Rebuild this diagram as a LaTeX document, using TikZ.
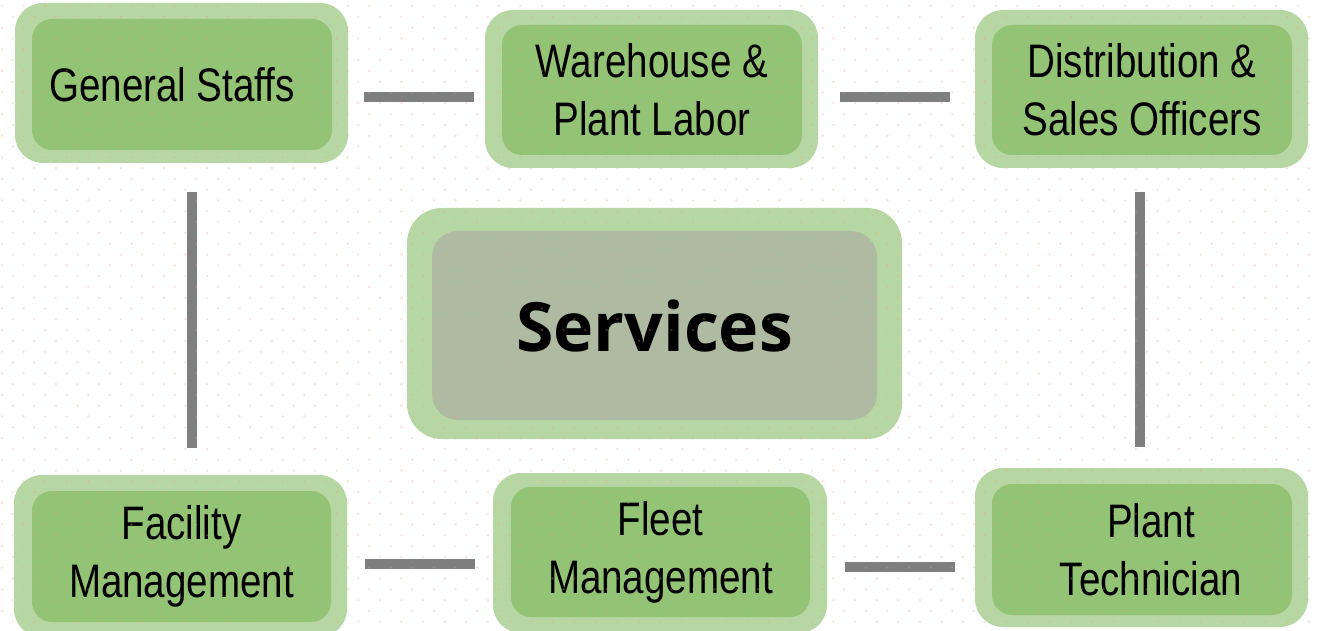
\documentclass[tikz,border=0pt]{standalone}
\usepackage{fontspec}
\setmainfont{Liberation Sans}
\newfontfamily\labfont[FakeStretch=0.82]{Liberation Sans}
\newfontfamily\titlefont{Open Sans}
\usetikzlibrary{calc}
\definecolor{outerg}{HTML}{B6D7A4}
\definecolor{innerg}{HTML}{93C374}
\definecolor{serving}{HTML}{AEBBA2}
\definecolor{connc}{HTML}{7F7F7F}
\definecolor{dotc}{HTML}{F0A070}
\begin{document}
\begin{tikzpicture}[x=1pt,y=-1pt,
  outerbox/.style={draw=none, fill=outerg, rounded corners=28pt, inner sep=0pt},
  innerbox/.style={draw=none, fill=innerg, rounded corners=20pt, inner sep=0pt,
    align=center, text=black, font=\labfont\fontsize{47}{58}\selectfont},
  conn/.style={draw=connc, line width=10pt}]
\useasboundingbox (0,0) rectangle (1317,631);
\clip (0,0) rectangle (1317,631);
\fill[white] (0,0) rectangle (1317,631);

% outer boxes
\node[outerbox, minimum width=333pt, minimum height=160pt] (gs) at (181.5,83) {};
\node[outerbox, minimum width=333pt, minimum height=158pt] (wh) at (651.5,89) {};
\node[outerbox, minimum width=333pt, minimum height=158pt] (ds) at (1141.5,89) {};
\node[outerbox, minimum width=495pt, minimum height=231pt, rounded corners=35pt] (sv) at (654.5,323.5) {};
\node[outerbox, minimum width=333pt, minimum height=162pt] (fm) at (180.5,556) {};
\node[outerbox, minimum width=334pt, minimum height=160pt] (fl) at (660,553) {};
\node[outerbox, minimum width=333pt, minimum height=159pt] (pt) at (1141.5,547.5) {};

% inner boxes with labels
\node[innerbox, minimum width=300pt, minimum height=131pt] (gsi) at (182,84.5) {General Staffs\hspace*{20pt}};
\node[innerbox, minimum width=300pt, minimum height=130pt] (whi) at (652,90) {Warehouse \&\\Plant Labor};
\node[innerbox, minimum width=300pt, minimum height=130pt] (dsi) at (1142,90) {Distribution \&\\Sales Officers};
\node[innerbox, fill=serving, minimum width=445pt, minimum height=189pt, rounded corners=26pt,
  font=\titlefont\bfseries\fontsize{68}{80}\selectfont] (svi) at (654.5,325.5) {Services};
\node[innerbox, minimum width=299pt, minimum height=131pt] (fmi) at (181.5,556.5) {Facility\\Management};
\node[innerbox, minimum width=299pt, minimum height=130pt] (fli) at (660.5,552) {Fleet\\Management};
\node[innerbox, minimum width=300pt, minimum height=131pt] (pti) at (1142,549.5) {\hspace*{18pt}Plant\\\hspace*{18pt}Technician};

% connectors
\draw[conn] ($(gs.east)+(16,14)$) -- ($(wh.west)+(-11,8)$);
\draw[conn] ($(wh.east)+(22,8)$) -- ($(ds.west)+(-25,8)$);
\draw[conn] ($(gs.south)+(10.5,29)$) -- ($(fm.north)+(11.5,-27)$);
\draw[conn] ($(ds.south)+(-1.5,24)$) -- ($(pt.north)+(-1.5,-21)$);
\draw[conn] ($(fm.east)+(18,8)$) -- ($(fl.west)+(-18,11)$);
\draw[conn] ($(fl.east)+(18,14)$) -- ($(pt.west)+(-20,19.5)$);

% faint dotted background overlay
\foreach \j in {0,...,29} {
  \fill[dotc, fill opacity=0.3]
    \foreach \i in {0,...,61} {
      (1.9+21.6*\i, 6.1+21.6*\j) circle (1.3)
      (12.7+21.6*\i, 16.9+21.6*\j) circle (1.3)
    };
}
\end{tikzpicture}
\end{document}
